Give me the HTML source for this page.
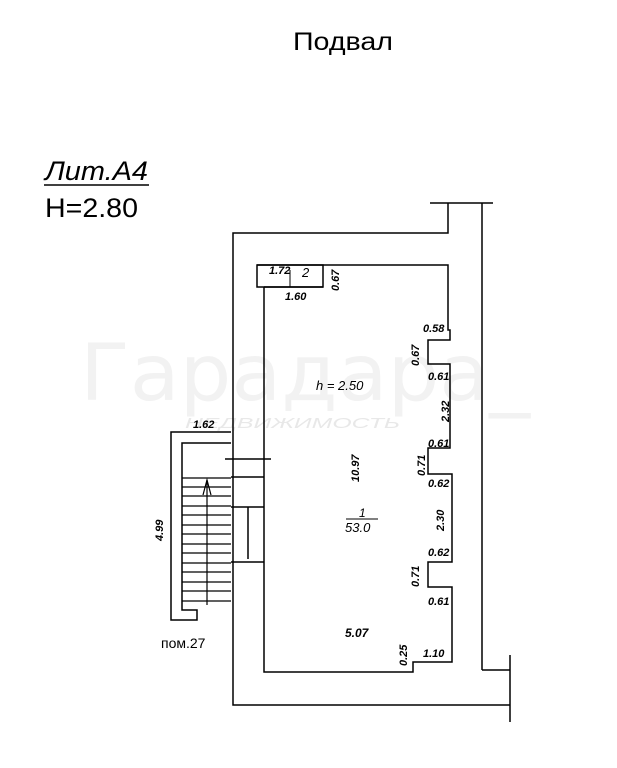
<!DOCTYPE html>
<html><head><meta charset="utf-8"><style>
html,body{margin:0;padding:0;background:#fff;}
svg{display:block;}
text{font-family:"Liberation Sans","DejaVu Sans",sans-serif;fill:#000;}
.d{font-size:11px;font-style:italic;font-weight:bold;}
</style></head><body>
<svg width="617" height="768" viewBox="0 0 617 768" xmlns="http://www.w3.org/2000/svg">
<!-- watermark -->
<text x="80" y="400" font-size="78" textLength="450" lengthAdjust="spacingAndGlyphs" style="fill:#f2f2f2;font-family:'DejaVu Sans',sans-serif">Гарадара_</text>
<text x="185" y="428" font-size="15" textLength="215" lengthAdjust="spacingAndGlyphs" style="fill:#e8e8e8;font-style:italic">НЕДВИЖИМОСТЬ</text>

<text x="293" y="50" font-size="25" textLength="100" lengthAdjust="spacingAndGlyphs">Подвал</text>
<text x="45" y="180" font-size="27" textLength="103" lengthAdjust="spacingAndGlyphs" font-style="italic">Лит.А4</text>
<line x1="44" y1="185" x2="149" y2="185" stroke="#000" stroke-width="1.5"/>
<text x="45" y="217" font-size="27" textLength="93" lengthAdjust="spacingAndGlyphs">Н=2.80</text>

<g fill="none" stroke="#000" stroke-width="1.5">
<polyline points="430,203 493,203"/>
<polyline points="448,203 448,233 233,233 233,705 510,705"/>
<line x1="482" y1="203" x2="482" y2="670"/>
<line x1="482" y1="670" x2="510" y2="670"/>
<line x1="510" y1="655" x2="510" y2="722"/>
<polyline points="257,265 448,265 448,330 450,330 450,340 428,340 428,364 450,364 450,448 428,448 428,474 452,474 452,562 428,562 428,587 452,587 452,662 413,662 413,672 264,672 264,287"/>
<rect x="257" y="265" width="66" height="22"/>
<line x1="264" y1="287" x2="323" y2="287"/>
<line x1="290" y1="270" x2="290" y2="287" stroke-width="1"/>
<polyline points="231,432 171,432 171,620 197,620 197,610 182,610 182,443 231,443"/>
<line x1="231" y1="477" x2="264" y2="477"/>
<line x1="231" y1="507" x2="264" y2="507"/>
<line x1="231" y1="562" x2="264" y2="562"/>
<line x1="248" y1="507" x2="248" y2="559"/>
<line x1="225" y1="459" x2="271" y2="459"/>
</g>
<g stroke="#000" stroke-width="1.2">
<line x1="182" y1="478" x2="231" y2="478"/><line x1="182" y1="487" x2="231" y2="487"/>
<line x1="182" y1="496" x2="231" y2="496"/><line x1="182" y1="506" x2="231" y2="506"/>
<line x1="182" y1="515" x2="231" y2="515"/><line x1="182" y1="525" x2="231" y2="525"/>
<line x1="182" y1="534" x2="231" y2="534"/><line x1="182" y1="544" x2="231" y2="544"/>
<line x1="182" y1="553" x2="231" y2="553"/><line x1="182" y1="563" x2="231" y2="563"/>
<line x1="182" y1="572" x2="231" y2="572"/><line x1="182" y1="582" x2="231" y2="582"/>
<line x1="182" y1="591" x2="231" y2="591"/><line x1="182" y1="601" x2="231" y2="601"/>
<line x1="207" y1="605" x2="207" y2="480"/>
<polyline points="203,495 207,480 211,495" fill="none"/>
</g>

<g>
<text x="269" y="274" class="d">1.72</text>
<text x="302" y="277" font-size="13" font-style="italic">2</text>
<text x="285" y="300" class="d">1.60</text>
<text class="d" transform="translate(339,291) rotate(-90)">0.67</text>
<text x="423" y="332" class="d">0.58</text>
<text class="d" transform="translate(419,366) rotate(-90)">0.67</text>
<text x="428" y="380" class="d">0.61</text>
<text x="316" y="390" font-size="13" font-style="italic">h = 2.50</text>
<text class="d" transform="translate(449,422) rotate(-90)">2.32</text>
<text x="193" y="428" class="d">1.62</text>
<text x="428" y="447" class="d">0.61</text>
<text class="d" transform="translate(425,476) rotate(-90)">0.71</text>
<text class="d" transform="translate(359,482) rotate(-90)">10.97</text>
<text x="428" y="487" class="d">0.62</text>
<text class="d" transform="translate(163,541) rotate(-90)">4.99</text>
<text x="359" y="517" font-size="12" font-style="italic">1</text>
<line x1="346" y1="519" x2="378" y2="519" stroke="#000" stroke-width="1"/>
<text x="345" y="532" font-size="13" font-style="italic">53.0</text>
<text class="d" transform="translate(444,531) rotate(-90)">2.30</text>
<text x="428" y="556" class="d">0.62</text>
<text class="d" transform="translate(419,587) rotate(-90)">0.71</text>
<text x="428" y="605" class="d">0.61</text>
<text x="345" y="637" font-size="12" font-style="italic" font-weight="bold">5.07</text>
<text class="d" transform="translate(407,666) rotate(-90)">0.25</text>
<text x="423" y="657" class="d">1.10</text>
</g>
<text x="161" y="648" font-size="14">пом.27</text>
</svg>
</body></html>
